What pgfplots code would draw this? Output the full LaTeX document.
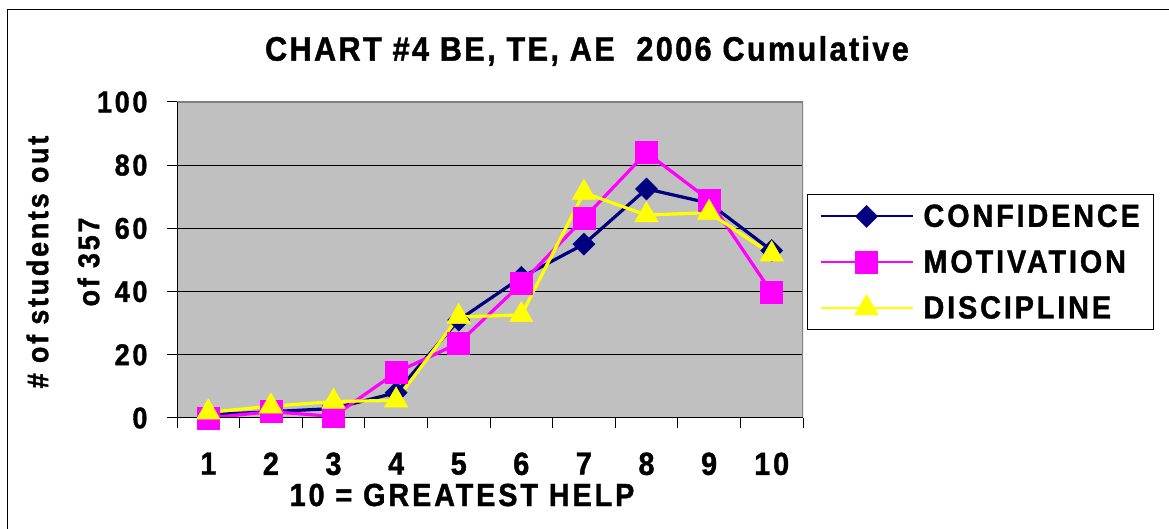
\documentclass[border=0pt]{standalone}
\usepackage{fontspec}
\setmainfont{Liberation Sans}
\newfontfamily\xf[FakeStretch=0.9, LetterSpace=9, BoldFeatures={FakeBold=1.2}]{Liberation Sans}
\newfontfamily\tf[FakeStretch=0.9, LetterSpace=7, BoldFeatures={FakeBold=1.2}]{Liberation Sans}
\usepackage{pgfplots}
\pgfplotsset{compat=1.18}
\definecolor{navyc}{RGB}{0,0,128}
\definecolor{magc}{RGB}{255,0,255}
\definecolor{yelc}{RGB}{255,255,0}
\definecolor{plotbg}{RGB}{192,192,192}
\definecolor{bordc}{RGB}{128,128,128}
\begin{document}
\begin{tikzpicture}[x=1pt,y=1pt]
\begin{axis}[
  at={(177pt,111pt)}, anchor=south west,
  scale only axis, width=626pt, height=316pt,
  xmin=0.5, xmax=10.5, ymin=0, ymax=100,
  xtick={0.5,1.5,2.5,3.5,4.5,5.5,6.5,7.5,8.5,9.5,10.5},
  x tick label as interval,
  xticklabels={1,2,3,4,5,6,7,8,9,10},
  ytick={0,20,40,60,80,100},
  tick align=outside, xtick pos=bottom, ytick pos=left,
  major tick length=10pt,
  tick style={black, line width=1pt},
  ymajorgrids, grid style={black, line width=1pt},
  axis background/.style={fill=plotbg},
  axis line style={draw=none},
  yticklabel style={font=\fontsize{30}{30}\selectfont\xf\bfseries, xshift=-16pt},
  xticklabel style={font=\fontsize{32}{32}\selectfont\xf\bfseries, yshift=-21pt},
  /pgf/number format/assume math mode=true,
  legend style={at={(1.0064,0.709)}, anchor=north west, draw=black, line width=1pt,
    font=\fontsize{32}{32}\selectfont\xf\bfseries, inner xsep=12pt, inner ysep=8pt,
    row sep=18pt, /tikz/every odd column/.append style={column sep=8pt}},
  legend cell align=left,
  legend image code/.code={
    \draw[#1, line width=2pt, mark repeat=2, mark phase=2] plot coordinates {(0pt,0pt) (46pt,0pt) (92pt,0pt)};
  },
]
\addplot[navyc, line width=3.2pt, mark=square*, mark size=7.8pt, mark options={rotate=45, fill=navyc, draw=navyc, line width=0.5pt}]
  coordinates {(1,1) (2,2) (3,3) (4,8) (5,31) (6,44.5) (7,55) (8,72.5) (9,68) (10,53)};
\addlegendentry{CONFIDENCE}
\addplot[magc, line width=3.2pt, mark=square*, mark size=11pt, mark options={fill=magc, draw=magc, line width=0.5pt}]
  coordinates {(1,0) (2,2) (3,0.5) (4,14.4) (5,23.7) (6,42.5) (7,63.2) (8,84) (9,69) (10,39.7)};
\addlegendentry{MOTIVATION}
\addplot[yelc, line width=3.2pt, mark=triangle*, mark size=13.5pt, mark options={fill=yelc, draw=yelc, line width=0.5pt}]
  coordinates {(1,1.8) (2,3.7) (3,5.2) (4,5.6) (5,32) (6,32.6) (7,71.3) (8,64.2) (9,65) (10,51.8)};
\addlegendentry{DISCIPLINE}
\draw[bordc, line width=3pt] (rel axis cs:0,1) -- (rel axis cs:1,1) -- (rel axis cs:1,0);
\draw[black, line width=1.5pt] (rel axis cs:0,1) -- (rel axis cs:0,0) -- (rel axis cs:1,0);
\end{axis}
\draw[black, line width=1.5pt] (7.5,0) -- (7.5,519.5) -- (1169,519.5);
\node[font=\fontsize{34}{34}\selectfont\tf\bfseries] at (587,478) {CHART \#4 BE, TE, AE\ \ 2006 Cumulative};
\node[font=\fontsize{32}{32}\selectfont\xf\bfseries] at (462,34) {10 = GREATEST HELP};
\node[rotate=90, align=center, font=\fontsize{30}{51}\selectfont\xf\bfseries] at (63,267) {\# of students out\\of 357};
\pgfresetboundingbox
\useasboundingbox (0,0) rectangle (1169,529);
\end{tikzpicture}
\end{document}
